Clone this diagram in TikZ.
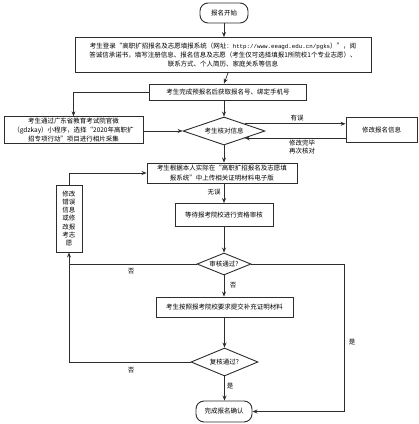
\documentclass[tikz,border=0pt]{standalone}
\usepackage{fontspec}
\usepackage{tikz}
\usetikzlibrary{positioning,arrows.meta,shapes.geometric}
\newfontfamily\cjk{Noto Sans CJK SC}
\newfontfamily\urlfont{Liberation Mono}
\definecolor{ink}{RGB}{45,45,45}

\tikzset{
  stepbox/.style={draw=ink, line width=0.9pt, fill=white, inner sep=1pt, align=center,
    font=\cjk\fontsize{6.5}{9.2}\selectfont},
  endbox/.style={stepbox, rounded corners=8pt},
  decide/.style={draw=ink, line width=0.9pt, fill=white, diamond, aspect=3, inner sep=0pt,
    align=center, font=\cjk\fontsize{6.5}{8}\selectfont},
  flow/.style={draw=ink, line width=0.7pt, -{Stealth[length=5pt,width=4pt]}},
  link/.style={draw=ink, line width=0.7pt},
  lbl/.style={font=\cjk\fontsize{6.5}{8}\selectfont, inner sep=0pt, align=center},
}

\begin{document}
\begin{tikzpicture}[x=1pt,y=-1pt]
  \useasboundingbox (0,0) rectangle (419,424);
  % main column
  \node[endbox, minimum width=48pt, minimum height=20pt] (start) at (224,13) {报名开始};
  \node[stepbox, minimum width=296pt, minimum height=35pt] (reg) at (223,55)
    {考生登录“高职扩招报名及志愿填报系统（网址：{\urlfont\fontsize{5.8}{9.2}\selectfont http://www.eeagd.edu.cn/pgks}）”，阅\\
     答诚信承诺书，填写注册信息、报名信息及志愿（考生仅可选择填报1所院校1个专业志愿）、\\
     联系方式、个人简历、家庭关系等信息};
  \node[stepbox, minimum width=157pt, minimum height=16pt] (pre) at (228,92) {考生完成预报名后获取报名号、绑定手机号};
  \node[stepbox, minimum width=139pt, minimum height=26pt] (photo) at (73.5,130)
    {考生通过广东省教育考试院官微\\（gdzkay）小程序，选择“2020年高职扩\\招专项行动”项目进行相片采集};
  \node[decide, minimum width=82pt, minimum height=28pt] (chk) at (224,131) {考生核对信息};
  \node[stepbox, minimum width=71pt, minimum height=25pt] (fix) at (381.5,130) {修改报名信息};
  \node[stepbox, minimum width=150pt, minimum height=20pt] (upl) at (222,173)
    {考生根据本人实际在“高职扩招报名及志愿填\\报系统”中上传相关证明材料电子版};
  \node[stepbox, minimum width=98pt, minimum height=23pt] (wait) at (224,215) {等待报考院校进行资格审核};
  \node[stepbox, minimum width=26pt, minimum height=67pt, font=\cjk\fontsize{6.5}{8.3}\selectfont] (mod) at (69,218.5)
    {修改\\错误\\信息\\或修\\改报\\考志\\愿};
  \node[decide, minimum width=54pt, minimum height=22pt] (rev) at (224,264) {审核通过?};
  \node[stepbox, minimum width=137pt, minimum height=20pt] (sup) at (224.5,307) {考生按照报考院校要求提交补充证明材料};
  \node[decide, minimum width=67pt, minimum height=28pt] (rec) at (224.5,362) {复核通过?};
  \node[endbox, minimum width=56pt, minimum height=21pt] (done) at (224,411.5) {完成报名确认};
  \coordinate (rt) at (344,411.5);

  % connectors
  \draw[flow] (start) -- (start |- reg.north);
  \draw[flow] (reg.south -| pre.north) -- (pre.north -| start);
  \draw[flow] (pre.west) -| (photo.north);
  \draw[flow] (photo.east |- chk.west) -- (chk.west);
  \draw[flow] (pre.south -| chk) -- (chk.north);
  \draw[flow] (chk.north east) -- (chk.north east -| fix.west);
  \draw[flow] (fix.west |- chk.south east) -- (chk.south east);
  \draw[flow] (chk.south) -- (chk.south |- upl.north);
  \draw[flow] (upl.south -| wait) -- (wait.north);
  \draw[flow] (wait.south) -- (rev.north);
  \draw[link] (rev.west) -- (rev.west -| mod.south);
  \draw[flow] (rec.west) -| (mod.south);
  \draw[flow] (mod.north) |- (upl.west);
  \draw[flow] (rev.south) -- (rev.south |- sup.north);
  \draw[flow] (rev.east) -| (rt) -- (done.east);
  \draw[flow] (sup.south) -- (rec.north);
  \draw[flow] (rec.south) -- (rec.south |- done.north);

  % labels
  \node[lbl] (l1) at (297,118) {有误};
  \node[lbl] (l2) at (302,147) {修改完毕\\再次核对};
  \node[lbl] (l3) at (214,192) {无误};
  \node[lbl] (l4) at (131,271) {否};
  \node[lbl] (l5) at (233,285) {否};
  \node[lbl] (l6) at (352,342) {是};
  \node[lbl] (l7) at (131,370) {否};
  \node[lbl] (l8) at (230,386) {是};
\end{tikzpicture}
\end{document}
